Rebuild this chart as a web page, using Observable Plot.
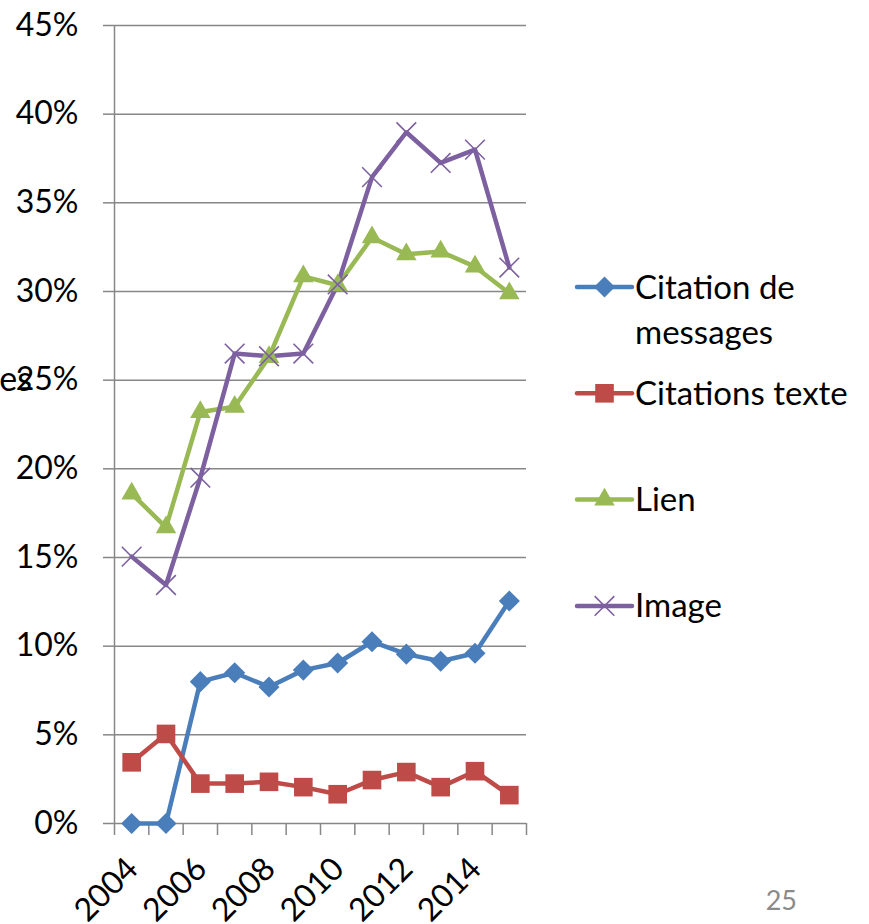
<!DOCTYPE html>
<html>
<head>
<meta charset="utf-8">
<script src="https://cdn.jsdelivr.net/npm/d3@7"></script>
<script src="https://cdn.jsdelivr.net/npm/@observablehq/plot@0.6"></script>
<style>
  html, body { margin: 0; padding: 0; background: #fff; }
  #wrap { position: relative; width: 869px; height: 924px; overflow: hidden; background: #fff; }
  #wrap svg { position: absolute; left: 0; top: 0; }
</style>
</head>
<body>
<div id="wrap"></div>
<script>
const years = [2004, 2005, 2006, 2007, 2008, 2009, 2010, 2011, 2012, 2013, 2014, 2015];
const citationMessages = [0, 0, 8.0, 8.5, 7.7, 8.65, 9.05, 10.25, 9.55, 9.15, 9.6, 12.55];
const citationsTexte = [3.45, 5.05, 2.25, 2.25, 2.35, 2.05, 1.65, 2.45, 2.9, 2.05, 2.95, 1.6];
const lien = [18.6, 16.7, 23.2, 23.5, 26.3, 30.85, 30.35, 33.05, 32.1, 32.25, 31.4, 29.9];
const image = [15.05, 13.45, 19.5, 26.5, 26.35, 26.5, 30.4, 36.45, 38.98, 37.25, 38.0, 31.35];

const seriesNames = ["Citation de messages", "Citations texte", "Lien", "Image"];
const legendLines = [["Citation de", "messages"], ["Citations texte"], ["Lien"], ["Image"]];
const seriesColors = ["#4A7EBB", "#BE4B48", "#98B954", "#7D60A0"];
const seriesSymbols = ["diamond2", "square", "triangle", "times"];
const symbolR = [9.5, 10.5, 7.6, 9];
const yTicks = [0, 5, 10, 15, 20, 25, 30, 35, 40, 45];
const xLabelYears = [2004, 2006, 2008, 2010, 2012, 2014];
const pageNumber = "25";
const clippedTitle = "es";

const seriesValues = [citationMessages, citationsTexte, lien, image];
const data = years.flatMap((year, i) =>
  seriesNames.map((name, s) => ({ year, value: seriesValues[s][i], series: name }))
);
const boundaries = [...years.map(y => y - 0.5), years[years.length - 1] + 0.5];

const gray = "#878787";
const font = "Lato, 'Open Sans', sans-serif";

const dotMarks = seriesNames.map((name, s) =>
  Plot.dot(data.filter(d => d.series === name), {
    x: "year", y: "value",
    symbol: () => seriesSymbols[s],
    r: symbolR[s],
    fill: seriesSymbols[s] === "times" ? "none" : seriesColors[s],
    stroke: seriesSymbols[s] === "times" ? seriesColors[s] : "none",
    strokeWidth: seriesSymbols[s] === "times" ? 1.6 : 0
  })
);

const chart = Plot.plot({
  width: 869,
  height: 924,
  marginLeft: 114,
  marginRight: 343,
  marginTop: 25,
  marginBottom: 101,
  style: { fontFamily: font, fontSize: "32px", color: "#000", background: "transparent" },
  x: { type: "linear", domain: [boundaries[0], boundaries[boundaries.length - 1]], axis: null },
  y: { domain: [0, 45], axis: null },
  color: { domain: seriesNames, range: seriesColors },
  symbol: { domain: ["diamond2", "square", "triangle", "times"], range: ["diamond2", "square", "triangle", "times"] },
  marks: [
    Plot.gridY(yTicks, { stroke: gray, strokeOpacity: 1, strokeWidth: 1.5 }),
    Plot.axisY(yTicks, {
      tickSize: 11, tickPadding: 25, stroke: gray, strokeWidth: 1.5, fill: "#000",
      tickFormat: d => d + "%", fontSize: 32, label: null
    }),
    Plot.ruleX([boundaries[0]], { y1: 0, y2: 45, stroke: gray, strokeWidth: 1.5 }),
    Plot.axisX(boundaries, { tickSize: 12, stroke: gray, strokeWidth: 1.5, tickFormat: () => "", label: null }),
    Plot.axisX(xLabelYears, {
      tickSize: 0, tickPadding: 40, dx: 1, tickRotate: -45, fill: "#000",
      tickFormat: d => String(d), fontSize: 32, label: null
    }),
    Plot.line(data, { x: "year", y: "value", z: "series", stroke: "series", strokeWidth: 4.5, strokeLinejoin: "round", strokeLinecap: "round" }),
    ...dotMarks
  ]
});

document.getElementById("wrap").appendChild(chart);

// Legend, clipped title fragment, page number
const svg = d3.select(chart);
const legend = svg.append("g").attr("font-family", font).attr("font-size", 33).attr("text-anchor", "start");
const rowY0 = 287, rowStep = 106.3, lx0 = 577, lx1 = 632, tx = 635;
const symMap = { diamond2: d3.symbolDiamond2, square: d3.symbolSquare, triangle: d3.symbolTriangle, times: d3.symbolTimes };
seriesNames.forEach((name, s) => {
  const y = rowY0 + s * rowStep;
  const g = legend.append("g");
  g.append("line").attr("x1", lx0).attr("x2", lx1).attr("y1", y).attr("y2", y)
    .attr("stroke", seriesColors[s]).attr("stroke-width", 4.5).attr("stroke-linecap", "round");
  const sym = seriesSymbols[s];
  g.append("path")
    .attr("transform", `translate(${(lx0 + lx1) / 2},${y})`)
    .attr("d", d3.symbol(symMap[sym], Math.PI * symbolR[s] * symbolR[s])())
    .attr("fill", sym === "times" ? "none" : seriesColors[s])
    .attr("stroke", sym === "times" ? seriesColors[s] : "none")
    .attr("stroke-width", 1.6);
  legendLines[s].forEach((t, k) => {
    g.append("text").attr("x", tx).attr("y", y + k * 45).attr("dy", "0.35em").attr("fill", "#000").text(t);
  });
});

svg.append("text").attr("x", 32).attr("y", 391).attr("text-anchor", "end")
  .attr("font-family", font).attr("font-size", 34).attr("fill", "#000").text(clippedTitle);
svg.append("text").attr("x", 797).attr("y", 910).attr("text-anchor", "end")
  .attr("font-family", font).attr("font-size", 27).attr("fill", "#8a8a8a").text(pageNumber);
</script>
</body>
</html>
